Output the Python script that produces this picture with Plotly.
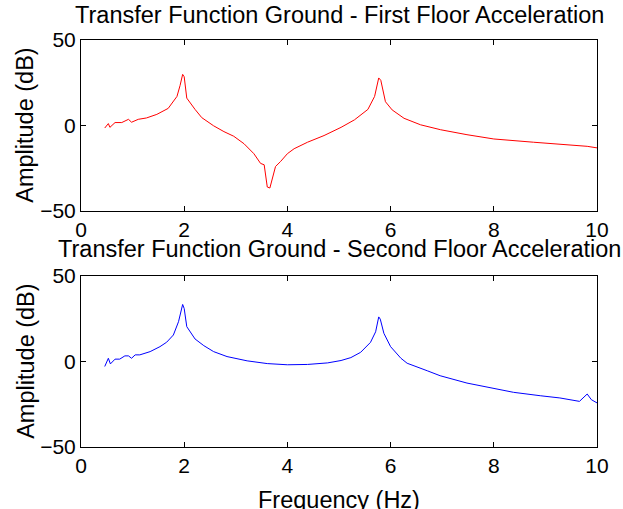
import plotly.graph_objects as go

# Top: ground -> first floor transfer function (dB)
freq1 = [0.46, 0.53, 0.56, 0.66, 0.79, 0.92, 0.98, 1.11, 1.27, 1.47, 1.69, 1.86, 1.92, 1.97, 2.0,
         2.05, 2.21, 2.34, 2.57, 2.77, 2.96, 3.16, 3.35, 3.48, 3.55, 3.58, 3.61, 3.66, 3.71, 3.77,
         3.87, 4.0, 4.13, 4.39, 4.71, 5.04, 5.3, 5.56, 5.69, 5.77, 5.81, 5.9, 6.03, 6.26, 6.58,
         6.97, 7.48, 8.0, 8.77, 9.42, 9.81, 10.0]
amp1 = [-1.5, 1.1, -1.1, 1.7, 1.7, 3.6, 1.9, 3.6, 4.4, 6.5, 10, 17, 23.4, 29.9, 28.5,
        16, 9.4, 4.6, -0.2, -3.6, -6.3, -10.7, -16.5, -22.2, -23, -29, -36, -36.6, -31, -24,
        -21, -16.5, -13.6, -9.8, -5.9, -1.1, 3.3, 9.4, 17, 27.8, 26.4, 13.9, 9.1, 4.2, 0.4,
        -2.5, -5.4, -7.9, -9.8, -11.2, -12.2, -13.1]

# Bottom: ground -> second floor transfer function (dB)
freq2 = [0.46, 0.53, 0.57, 0.66, 0.75, 0.85, 0.92, 0.98, 1.05, 1.14, 1.34, 1.53, 1.66, 1.79, 1.89,
         1.97, 2.0, 2.05, 2.21, 2.38, 2.57, 2.83, 3.22, 3.61, 4.0, 4.39, 4.78, 5.04, 5.23, 5.42,
         5.61, 5.71, 5.77, 5.8, 5.87, 6.0, 6.2, 6.32, 6.71, 6.96, 7.48, 8.0, 8.38, 8.9, 9.28,
         9.66, 9.81, 9.89, 10.0]
amp2 = [-2.9, 1.9, -1.4, 1.4, 1.4, 3.3, 3.3, 1.9, 3.9, 3.9, 5.8, 8.7, 11.3, 15.5, 23.3,
        33.4, 31, 20.4, 13.2, 9.3, 5.8, 2.9, 0.4, -1.2, -1.9, -1.7, -0.8, 0.6, 2.3, 5.4,
        11.2, 17.4, 26.1, 24.8, 16.5, 8.7, 1.9, -1, -5.4, -8.3, -12.6, -15.5, -18, -20, -21.3,
        -23.3, -19, -22.3, -24.2]

x_ticks = [0, 2, 4, 6, 8, 10]
y_ticks = [-50, 0, 50]

title1 = "Transfer Function Ground - First Floor Acceleration"
title2 = "Transfer Function Ground - Second Floor Acceleration"
ylabel = "Amplitude (dB)"
xlabel = "Frequency (Hz)"

FONT = "Liberation Sans, Arial, sans-serif"

fig = go.Figure()
fig.add_trace(go.Scatter(x=freq1, y=amp1, mode="lines", line=dict(color="rgb(255,0,0)", width=1),
                         xaxis="x", yaxis="y", showlegend=False))
fig.add_trace(go.Scatter(x=freq2, y=amp2, mode="lines", line=dict(color="rgb(0,0,255)", width=1),
                         xaxis="x2", yaxis="y2", showlegend=False))

axis_common = dict(showline=True, linecolor="black", linewidth=1, mirror="allticks",
                   ticks="inside", ticklen=5, tickcolor="black", showgrid=False, zeroline=False,
                   automargin=False,
                   tickfont=dict(family=FONT, size=21, color="black"))

fig.update_layout(
    width=623, height=509,
    margin=dict(l=81, r=26, t=40, b=62),
    paper_bgcolor="white", plot_bgcolor="white",
    xaxis=dict(domain=[0, 1], anchor="y", range=[0, 10], tickvals=x_ticks, **axis_common),
    yaxis=dict(domain=[0.58, 1], anchor="x", range=[-50, 50], tickvals=y_ticks, **axis_common),
    xaxis2=dict(domain=[0, 1], anchor="y2", range=[0, 10], tickvals=x_ticks, **axis_common),
    yaxis2=dict(domain=[0, 0.42], anchor="x2", range=[-50, 50], tickvals=y_ticks, **axis_common),
)

ann_font = dict(family=FONT, size=23.5, color="black")
fig.add_annotation(text=title1, x=0.5, y=1.062, xref="paper", yref="paper",
                   xanchor="center", yanchor="middle", showarrow=False, font=ann_font)
fig.add_annotation(text=title2, x=0.5, y=0.4865, xref="paper", yref="paper",
                   xanchor="center", yanchor="middle", showarrow=False, font=ann_font)
fig.add_annotation(text=ylabel, x=-0.108, y=0.79, xref="paper", yref="paper", textangle=-90,
                   xanchor="center", yanchor="middle", showarrow=False, font=ann_font)
fig.add_annotation(text=ylabel, x=-0.108, y=0.21, xref="paper", yref="paper", textangle=-90,
                   xanchor="center", yanchor="middle", showarrow=False, font=ann_font)
fig.add_annotation(text=xlabel, x=0.5, y=-0.130, xref="paper", yref="paper",
                   xanchor="center", yanchor="middle", showarrow=False, font=ann_font)

fig.write_html("out.html", config={"displayModeBar": False},
               post_script="document.body.style.margin='0';")
